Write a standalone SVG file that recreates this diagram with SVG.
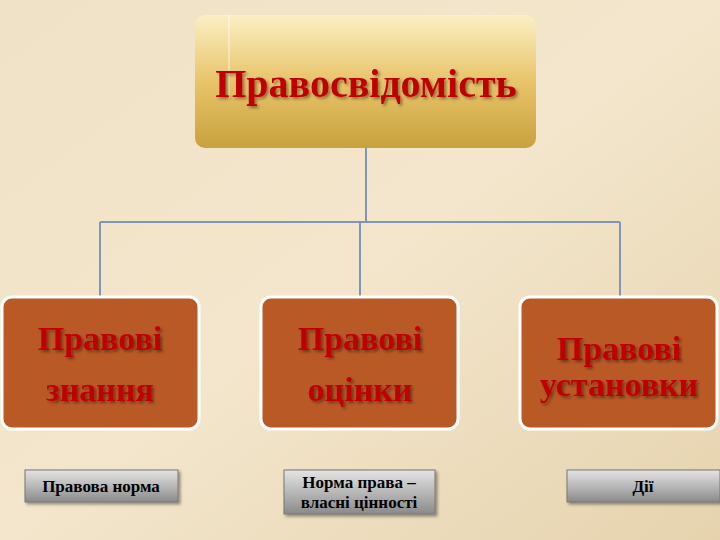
<svg xmlns="http://www.w3.org/2000/svg" width="720" height="540" viewBox="0 0 720 540">
<defs>
<linearGradient id="bg" x1="0" y1="0" x2="1" y2="1"><stop offset="0" stop-color="#efe2c6"/><stop offset="0.5" stop-color="#f3e6cc"/><stop offset="1" stop-color="#e6d3ae"/></linearGradient>
<linearGradient id="gold" x1="0" y1="0" x2="0" y2="1"><stop offset="0" stop-color="#fbefc4"/><stop offset="0.5" stop-color="#e8c46a"/><stop offset="1" stop-color="#c9a23e"/></linearGradient>
<linearGradient id="grey" x1="0" y1="0" x2="0" y2="1"><stop offset="0" stop-color="#e4e4e4"/><stop offset="0.5" stop-color="#b8b8b8"/><stop offset="1" stop-color="#8a8a8a"/></linearGradient>
<filter id="sh" x="-10%" y="-10%" width="120%" height="130%"><feDropShadow dx="2" dy="2" stdDeviation="1.5" flood-color="#000" flood-opacity="0.4"/></filter>
</defs>
<style>
.lvl{fill:#b95a26;stroke:#ffffff;stroke-width:3}
.t{font-family:"Liberation Serif",serif;font-size:34px;fill:#c00000;text-anchor:middle;font-weight:bold}
.s{font-family:"Liberation Serif",serif;font-size:17px;fill:#000;text-anchor:middle;font-weight:bold}
.b{fill:url(#grey);stroke:#777;stroke-width:1}
.c{fill:none;stroke:#7f97b5;stroke-width:2}
</style>
<rect width="720" height="540" fill="url(#bg)"/>
<g id="connectors">
<path class="c" d="M366 147V222M100 222H620M100 222V298M360 222V298M620 222V298"/>
</g>
<g id="root"><rect x="195" y="15" width="341" height="133" rx="10" fill="url(#gold)"/><line x1="229" y1="15" x2="229" y2="100" stroke="#fff" stroke-width="1" opacity="0.7"/><text class="t" x="366" y="97" style="font-size:40px" filter="url(#sh)">Правосвідомість</text></g>
<g id="n1"><rect class="lvl" x="2" y="297" width="197" height="132" rx="10"/><text class="t" x="100" y="350" filter="url(#sh)">Правові</text><text class="t" x="100" y="401" filter="url(#sh)">знання</text></g>
<g id="n2"><rect class="lvl" x="261" y="297" width="197" height="132" rx="10"/><text class="t" x="360" y="350" filter="url(#sh)">Правові</text><text class="t" x="360" y="401" filter="url(#sh)">оцінки</text></g>
<g id="n3"><rect class="lvl" x="520" y="297" width="197" height="132" rx="10"/><text class="t" x="619" y="360" filter="url(#sh)">Правові</text><text class="t" x="619" y="396" filter="url(#sh)">установки</text></g>
<g id="b1"><rect class="b" x="25" y="470" width="153" height="32" filter="url(#sh)"/><text class="s" x="101" y="492">Правова норма</text></g>
<g id="b2"><rect class="b" x="284" y="470" width="151" height="44" filter="url(#sh)"/><text class="s" x="359" y="488">Норма права –</text><text class="s" x="359" y="508">власні цінності</text></g>
<g id="b3"><rect class="b" x="567" y="470" width="153" height="32" filter="url(#sh)"/><text class="s" x="643" y="492">Дії</text></g>
</svg>
